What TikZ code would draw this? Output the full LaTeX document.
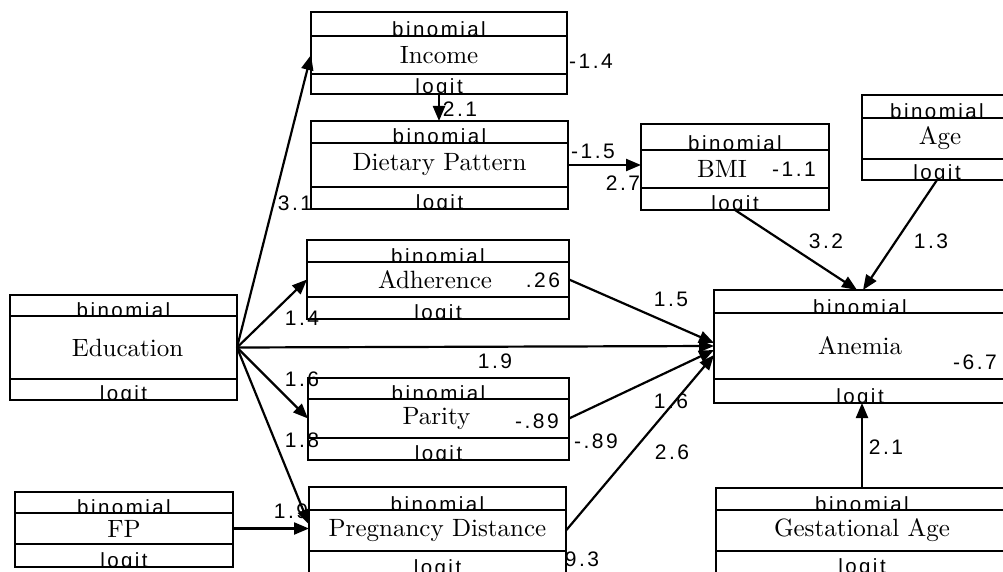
\documentclass[tikz,border=0pt]{standalone}
\usepackage{fontspec}
\usetikzlibrary{arrows.meta,fit,calc}
\newfontfamily\labfont[LetterSpace=12]{Liberation Sans}
\newfontfamily\serifx[Extension=.otf]{lmroman10-regular}
\tikzset{
  band/.style={draw, line width=2.8pt, inner sep=0pt, outer sep=0pt},
  bintext/.style={font=\labfont\fontsize{20.5}{22}\selectfont, inner sep=0pt, anchor=base},
  maintext/.style={font=\serifx\fontsize{25}{27}\selectfont, inner sep=0pt},
  num/.style={font=\labfont\fontsize{21}{22}\selectfont, inner sep=0pt},
  conn/.style={line width=2.2pt, -{Triangle[length=15pt,width=12pt]}},
}
\newcommand\tribox[9]{%
  \begin{scope}\clip (#2,#4) rectangle (#3,#5);
    \node[bintext] (#1bin) at ({(#2+#3)/2},{#5+1}) {binomial};\end{scope}
  \begin{scope}\clip (#2,#6) rectangle (#3,#7);
    \node[bintext] (#1lg) at ({(#2+#3)/2},{#7}) {logit};\end{scope}
  \node[maintext] (#1txt) at ({(#2+#3)/2+#9},{(#5+#6)/2}) {#8};
  \node[band, fit={(#2,#4)(#3,#5)}] (#1t) {};
  \node[band, fit={(#2,#5)(#3,#6)}] (#1) {};
  \node[band, fit={(#2,#6)(#3,#7)}] (#1b) {};
}
\begin{document}
\begin{tikzpicture}[x=1pt,y=-1pt]
\useasboundingbox (0,0) rectangle (1003,572);
\fill[white] (0,0) rectangle (1003,572);
\clip (0,0) rectangle (1003,572);
% labels
\node[num] (n1) at (295,203) {3.1};
\node[num] (n2) at (302,318) {1.4};
\node[num] (n3) at (495,361) {1.9};
\node[num] (n4) at (302,379) {1.6};
\node[num] (n5) at (302,440) {1.8};
\node[num] (n6) at (291,511) {1.9};
\node[num] (n7) at (460,109) {2.1};
\node[num] (n8) at (591,61) {-1.4};
\node[num] (n9) at (593,151) {-1.5};
\node[num] (n10) at (623,183) {2.7};
\node[num] (n11) at (794,169) {-1.1};
\node[num] (n12) at (826,241) {3.2};
\node[num] (n13) at (931,241) {1.3};
\node[num] (n14) at (543,280) {.26};
\node[num] (n15) at (671,299) {1.5};
\node[num] (n16) at (537,421) {-.89};
\node[num] (n17) at (596,441) {-.89};
\node[num] (n18) at (671,401) {1.6};
\node[num] (n19) at (672,452) {2.6};
\node[num] (n20) at (975,362) {-6.7};
\node[num] (n21) at (886,447) {2.1};
\node[num] (n22) at (582,559) {9.3};
% boxes
\tribox{inc}{311}{567}{12}{36}{74}{94}{Income}{0}
\tribox{diet}{311}{568}{121}{143}{187}{209}{Dietary Pattern}{0}
\tribox{bmi}{641}{829}{124}{150}{188}{210}{BMI}{-13}
\tribox{age}{862}{1012}{95}{118}{159}{180}{Age}{3}
\tribox{adh}{307}{569}{240}{262}{297}{319}{Adherence}{-3}
\tribox{par}{308}{569}{378}{399}{438}{460}{Parity}{-2}
\tribox{preg}{309}{566}{487}{510}{551}{574}{Pregnancy Distance}{0}
\tribox{edu}{10}{237}{295}{316}{379}{400}{Education}{4}
\tribox{fp}{15}{233}{492}{513}{544}{567}{FP}{0}
\tribox{ane}{714}{1006}{290}{313}{379}{403}{Anemia}{0}
\tribox{ga}{716}{1008}{488}{510}{551}{573}{Gestational Age}{0}
% connectors
\draw[conn] (edu.east) -- (inc.west);
\draw[conn] (edu.east) -- (adh.west);
\draw[conn] (edu.east) -- (ane.west);
\draw[conn] (edu.east) -- (par.west);
\draw[conn] (edu.east) -- ([yshift=6pt]preg.west);
\draw[conn] (fp.east) -- (fp.east -| preg.west);
\draw[conn] (incb.south) -- (incb.south |- diett.north);
\draw[conn] (diet.east) -- (diet.east -| bmi.west);
\draw[conn] (bmib.south) -- ([xshift=-3pt]anet.north);
\draw[conn] (ageb.south) -- ([xshift=3pt]anet.north);
\draw[conn] (adh.east) -- ([yshift=3pt]ane.west);
\draw[conn] (par.east) -- ([yshift=-4pt]ane.west);
\draw[conn] (preg.east) -- ([yshift=-9pt]ane.west);
\draw[conn] (gat.north) -- (gat.north |- aneb.south);
\end{tikzpicture}
\end{document}
